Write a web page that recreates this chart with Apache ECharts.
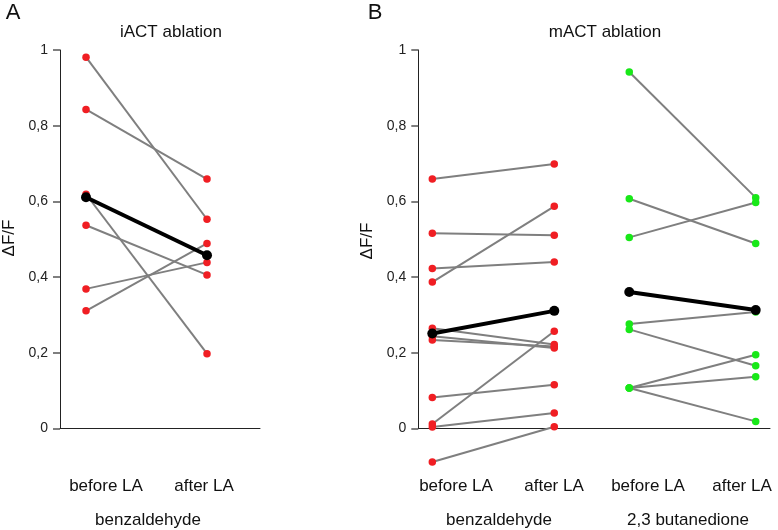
<!DOCTYPE html>
<html>
<head>
<meta charset="utf-8">
<script src="https://cdn.jsdelivr.net/npm/echarts@6/dist/echarts.min.js"></script>
<style>
html,body{margin:0;padding:0;background:#fff;}
#chart{width:778px;height:530px;}
</style>
</head>
<body>
<div id="chart"></div>
<script>
// ---- data ----
const conditions = ['before LA', 'after LA'];
const panelLetters = ['A', 'B'];
const panelTitles = ['iACT ablation', 'mACT ablation'];
const odorNames = ['benzaldehyde', 'benzaldehyde', '2,3 butanedione'];
const yTickStep = 0.2;
const yAxisName = '\u0394F/F';

// Panel A: iACT ablation, benzaldehyde (paired cells)
const aBefore = [0.981, 0.843, 0.619, 0.537, 0.369, 0.311];
const aAfter  = [0.553, 0.659, 0.198, 0.406, 0.439, 0.489];
const aMean   = [0.611, 0.458];

// Panel B: mACT ablation, benzaldehyde
const bBenzBefore = [0.659, 0.516, 0.423, 0.387, 0.265, 0.244, 0.234, 0.082, 0.012, 0.004, -0.088];
const bBenzAfter  = [0.699, 0.511, 0.440, 0.587, 0.222, 0.213, 0.217, 0.116, 0.257, 0.041, 0.005];
const bBenzMean   = [0.251, 0.311];

// Panel B: mACT ablation, 2,3 butanedione
const bButBefore = [0.942, 0.607, 0.505, 0.276, 0.262, 0.107, 0.107, 0.107];
const bButAfter  = [0.610, 0.489, 0.597, 0.308, 0.166, 0.195, 0.137, 0.019];
const bButMean   = [0.361, 0.313];

// ---- styles ----
const RED = '#f01e23';
const GREEN = '#18e818';
const GREY = '#7f7f7f';
const FONT = 'Liberation Sans, Arial, sans-serif';

const chart = echarts.init(document.getElementById('chart'), null, {renderer: 'canvas'});

const gridH = 378.6;

const grids = [
  {left: 60, top: 50, width: 200, height: gridH},
  {left: 418.3, top: 50, width: 176.7, height: gridH},
  {left: 595, top: 50, width: 175, height: gridH}
];
const xRanges = [[-0.215, 1.438], [-0.115, 1.334], [-0.271, 1.113]];

function fmt(v) { return String(Math.round(v * 10) / 10).replace('.', ','); }

const xAxes = xRanges.map((r, i) => ({
  gridIndex: i, type: 'value', min: r[0], max: r[1],
  axisLine: {onZero: true, lineStyle: {color: '#222', width: 1}},
  axisTick: {show: false}, axisLabel: {show: false}, splitLine: {show: false}
}));
const yAxes = [0, 1, 2].map(i => ({
  gridIndex: i, type: 'value', min: 0, max: 1, interval: yTickStep,
  axisLine: {show: i !== 2, onZero: false, lineStyle: {color: '#222', width: 1}},
  axisTick: {show: i !== 2, inside: false, length: 7, lineStyle: {color: '#555', width: 1.5}},
  axisLabel: {show: i !== 2, formatter: fmt, fontFamily: FONT, fontSize: 14, color: '#222', margin: 12},
  splitLine: {show: false}
}));

const series = [];
function addGroup(gi, before, after, mean, color) {
  before.forEach((b, k) => {
    series.push({
      type: 'line', xAxisIndex: gi, yAxisIndex: gi, clip: false, silent: true,
      symbol: 'none', lineStyle: {color: GREY, width: 2}, z: 2,
      data: [[0, b], [1, after[k]]]
    });
  });
  const pts = [];
  before.forEach(b => pts.push([0, b]));
  after.forEach(a => pts.push([1, a]));
  series.push({
    type: 'scatter', xAxisIndex: gi, yAxisIndex: gi, clip: false, silent: true,
    symbol: 'circle', symbolSize: 7.5, itemStyle: {color: color, opacity: 1}, z: 3, data: pts
  });
  series.push({
    type: 'line', xAxisIndex: gi, yAxisIndex: gi, clip: false, silent: true,
    symbol: 'circle', symbolSize: 10, showSymbol: true,
    lineStyle: {color: '#000', width: 4}, itemStyle: {color: '#000'}, z: 4,
    data: [[0, mean[0]], [1, mean[1]]]
  });
}
addGroup(0, aBefore, aAfter, aMean, RED);
addGroup(1, bBenzBefore, bBenzAfter, bBenzMean, RED);
addGroup(2, bButBefore, bButAfter, bButMean, GREEN);

function txt(x, y, s, size, extra) {
  return Object.assign({
    type: 'text', x: x, y: y, silent: true,
    style: {text: s, fontFamily: FONT, fontSize: size, fill: '#111', align: 'center', verticalAlign: 'middle'}
  }, extra || {});
}

const graphics = [
  txt(13, 13, panelLetters[0], 22),
  txt(375, 13, panelLetters[1], 22),
  txt(171, 32, panelTitles[0], 17),
  txt(605, 32, panelTitles[1], 17),
  txt(9, 238, yAxisName, 17, {rotation: Math.PI / 2}),
  txt(367, 241, yAxisName, 17, {rotation: Math.PI / 2}),
  txt(106, 486, conditions[0], 17),
  txt(204, 486, conditions[1], 17),
  txt(456, 486, conditions[0], 17),
  txt(554, 486, conditions[1], 17),
  txt(648, 486, conditions[0], 17),
  txt(742, 486, conditions[1], 17),
  txt(148, 520, odorNames[0], 17),
  txt(499, 520, odorNames[1], 17),
  txt(688, 520, odorNames[2], 17)
];

chart.setOption({
  animation: false,
  backgroundColor: '#fff',
  grid: grids,
  xAxis: xAxes,
  yAxis: yAxes,
  series: series,
  graphic: graphics
});
</script>
</body>
</html>
